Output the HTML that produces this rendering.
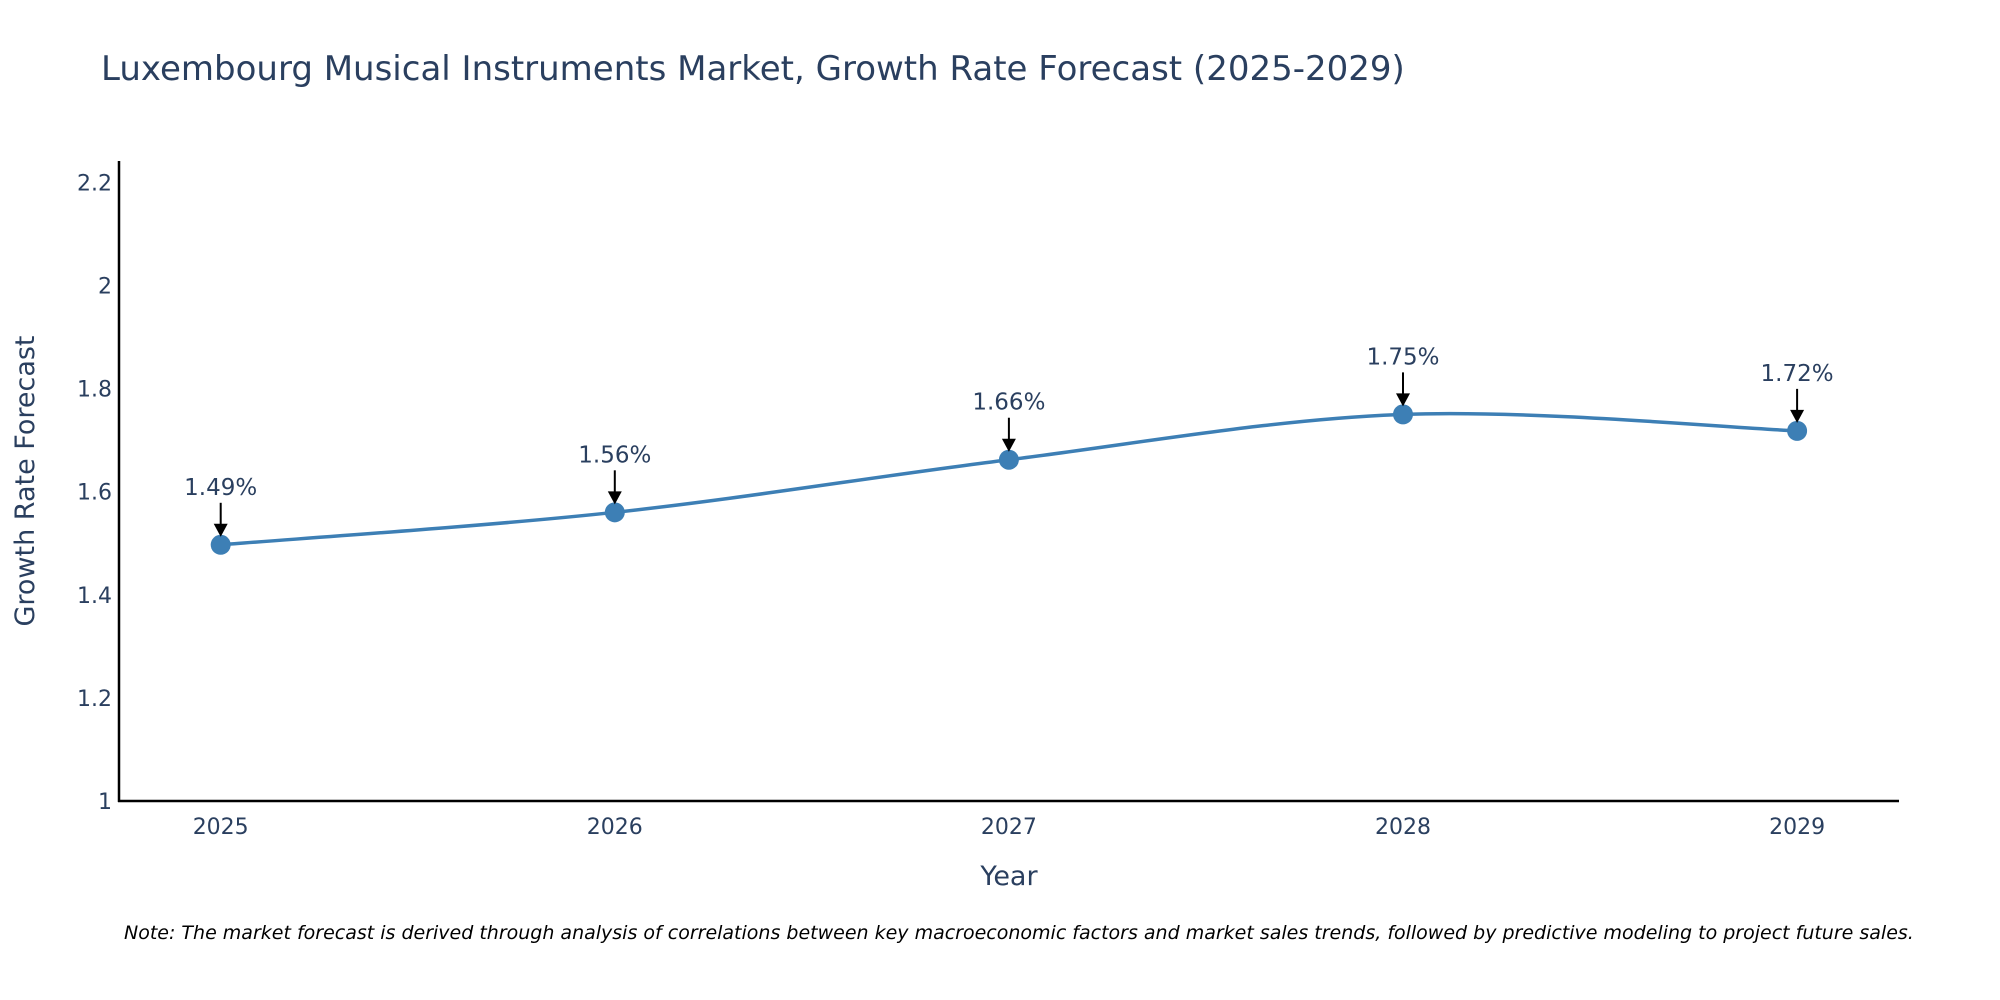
<!DOCTYPE html>
<html><head><meta charset="utf-8"><style>
html,body{margin:0;padding:0;background:#fff;}
svg{display:block;font-family:"DejaVu Sans","Liberation Sans",sans-serif;}
</style></head><body>
<svg id="chart" width="2000" height="1000" viewBox="0 0 2000 1000">
<text x="101" y="80" font-size="34" fill="#2a3f5f">Luxembourg Musical Instruments Market, Growth Rate Forecast (2025-2029)</text>
<g id="yticks"></g>
<g id="xticks"></g>
<line x1="119" y1="161" x2="119" y2="802" stroke="#000" stroke-width="2.5"/>
<line x1="118" y1="801" x2="1899" y2="801" stroke="#000" stroke-width="2.5"/>
<text transform="translate(34,481) rotate(-90)" text-anchor="middle" font-size="27" fill="#2a3f5f">Growth Rate Forecast</text>
<text x="1009" y="885" text-anchor="middle" font-size="27" fill="#2a3f5f">Year</text>
<path id="line" fill="none" stroke="#3d7fb5" stroke-width="3.5"/>
<g id="marks"></g>
<text x="124" y="939" font-size="19" font-style="italic" fill="#000">Note: The market forecast is derived through analysis of correlations between key macroeconomic factors and market sales trends, followed by predictive modeling to project future sales.</text>
</svg>
<script>
const years = ["2025","2026","2027","2028","2029"];
const values = [1.497, 1.56, 1.662, 1.75, 1.718];
const valueLabels = ["1.49%","1.56%","1.66%","1.75%","1.72%"];
const yTicks = [1, 1.2, 1.4, 1.6, 1.8, 2, 2.2];
const yTickLabels = ["1","1.2","1.4","1.6","1.8","2","2.2"];

const NS = "http://www.w3.org/2000/svg";
function xs(i){ return 220.7 + i*394.1; }
function ys(v){ return 801 - (v-1)*515.5; }
function mk(tag, attrs, parent){ const e=document.createElementNS(NS,tag); for(const k in attrs) e.setAttribute(k,attrs[k]); parent.appendChild(e); return e; }

const yg=document.getElementById('yticks');
yTicks.forEach((t,i)=>{
  const e=mk('text',{x:112,y:ys(t)+8,'text-anchor':'end','font-size':22,fill:'#2a3f5f'},yg);
  
  
  e.textContent=yTickLabels[i];
});
const xg=document.getElementById('xticks');
years.forEach((y,i)=>{
  const e=mk('text',{x:xs(i),y:834,'text-anchor':'middle','font-size':22,fill:'#2a3f5f'},xg);
  
  
  e.textContent=y;
});

const pts=values.map((v,i)=>[xs(i),ys(v)]);
let d=`M${pts[0][0]},${pts[0][1]}`;
for(let i=0;i<pts.length-1;i++){
  const p0=pts[Math.max(0,i-1)],p1=pts[i],p2=pts[i+1],p3=pts[Math.min(pts.length-1,i+2)];
  const s=1/6;
  const c1=[p1[0]+(p2[0]-p0[0])*s,p1[1]+(p2[1]-p0[1])*s];
  const c2=[p2[0]-(p3[0]-p1[0])*s,p2[1]-(p3[1]-p1[1])*s];
  d+=` C${c1[0]},${c1[1]} ${c2[0]},${c2[1]} ${p2[0]},${p2[1]}`;
}
document.getElementById('line').setAttribute('d',d);

const mg=document.getElementById('marks');
pts.forEach((p,i)=>{
  const c=mk('circle',{cx:p[0],cy:p[1],r:10,fill:'#3d7fb5'},mg);
  
  
  const l=mk('line',{x1:p[0],y1:p[1]-42,x2:p[0],y2:p[1]-20,stroke:'#000','stroke-width':2},mg);
  
  
  const a=mk('polygon',{points:`${p[0]-7},${p[1]-21} ${p[0]+7},${p[1]-21} ${p[0]},${p[1]-8}`,fill:'#000'},mg);
  
  
  const t=mk('text',{x:p[0],y:p[1]-50,'text-anchor':'middle','font-size':23,fill:'#2a3f5f'},mg);
  
  
  t.textContent=valueLabels[i];
});
</script>
</body></html>
